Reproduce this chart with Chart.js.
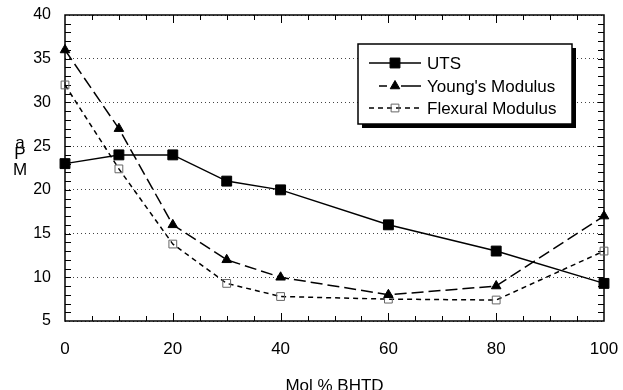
<!DOCTYPE html>
<html>
<head>
<meta charset="utf-8">
<script src="https://cdn.jsdelivr.net/npm/chart.js@4/dist/chart.umd.min.js"></script>
<style>
  html, body { margin: 0; padding: 0; background: #fff; }
  #wrap { width: 623px; height: 390px; position: relative; }
</style>
</head>
<body>
<div id="wrap"><canvas id="chart"></canvas></div>
<script>
const FONT = '"Liberation Sans", Arial, Helvetica, sans-serif';

// composition (mol % BHTD) and measured properties
const molPercent = [0, 10, 20, 30, 40, 60, 80, 100];
const utsValues = [23, 24, 24, 21, 20, 16, 13, 9.3];
const youngValues = [36, 27, 16, 12, 10, 8, 9, 17];
const flexuralValues = [32, 22.4, 13.8, 9.3, 7.8, 7.5, 7.4, 13];
const seriesNames = ['UTS', "Young's Modulus", 'Flexural Modulus'];
const yUnitLetters = ['a', 'P', 'M'];

function toPoints(values) {
	return molPercent.map((m, i) => ({ x: m, y: values[i] }));
}

// box with inward ticks on all four sides
const frameTicks = {
	id: 'frameTicks',
	beforeDatasetsDraw(chart) {
		const { ctx, chartArea: a, scales: { x, y } } = chart;
		ctx.save();
		ctx.strokeStyle = '#000';
		ctx.lineWidth = 1.5;
		ctx.strokeRect(a.left, a.top, a.right - a.left, a.bottom - a.top);
		ctx.lineWidth = 1;
		ctx.beginPath();
		for (let v = 5; v < 100; v += 5) {
			const px = Math.round(x.getPixelForValue(v)) + 0.5;
			const len = v % 20 === 0 ? 8 : 5;
			ctx.moveTo(px, a.bottom);
			ctx.lineTo(px, a.bottom - len);
			ctx.moveTo(px, a.top);
			ctx.lineTo(px, a.top + len);
		}
		for (let v = 6; v < 40; v++) {
			const py = Math.round(y.getPixelForValue(v)) + 0.5;
			ctx.moveTo(a.left, py);
			ctx.lineTo(a.left + 6, py);
			ctx.moveTo(a.right, py);
			ctx.lineTo(a.right - 6, py);
		}
		ctx.stroke();
		ctx.restore();
	},
	afterDraw(chart) {
		const ctx = chart.ctx;
		ctx.save();

		// stacked unit letters beside the y axis
		ctx.fillStyle = '#000';
		ctx.font = '17px ' + FONT;
		ctx.textAlign = 'center';
		ctx.textBaseline = 'middle';
		const letterY = [143, 154, 170];
		yUnitLetters.forEach((ch, i) => ctx.fillText(ch, 20, letterY[i]));

		// legend box with drop shadow
		const bx = 358, by = 44, bw = 214, bh = 80;
		ctx.fillRect(bx + 4, by + 4, bw, bh);
		ctx.fillStyle = '#fff';
		ctx.fillRect(bx, by, bw, bh);
		ctx.strokeStyle = '#000';
		ctx.lineWidth = 1.5;
		ctx.strokeRect(bx, by, bw, bh);

		const rows = [63, 86, 108];
		chart.data.datasets.forEach((ds, i) => {
			const ry = rows[i];
			ctx.strokeStyle = '#000';
			ctx.lineWidth = 1.5;
			ctx.setLineDash(ds.borderDash || []);
			ctx.beginPath();
			if (i === 1) {
				ctx.setLineDash([]);
				ctx.moveTo(379, ry); ctx.lineTo(387, ry);
				ctx.moveTo(401, ry); ctx.lineTo(421, ry);
			} else {
				ctx.moveTo(369, ry);
				ctx.lineTo(421, ry);
			}
			ctx.stroke();
			ctx.setLineDash([]);
			drawMarker(ctx, ds, 395, ry);

			ctx.fillStyle = '#000';
			ctx.font = '17px ' + FONT;
			ctx.textAlign = 'left';
			ctx.textBaseline = 'middle';
			ctx.fillText(ds.label, 427, ry + 1);
		});
		ctx.restore();
	}
};

function drawMarker(ctx, ds, cx, cy) {
	const r = ds.pointRadius;
	ctx.beginPath();
	if (ds.pointStyle === 'triangle') {
		for (let k = 0; k < 3; k++) {
			const ang = k * 2 * Math.PI / 3;
			const px = cx + Math.sin(ang) * r, py = cy - Math.cos(ang) * r;
			k ? ctx.lineTo(px, py) : ctx.moveTo(px, py);
		}
		ctx.closePath();
	} else {
		const s = r * Math.SQRT1_2;
		ctx.rect(cx - s, cy - s, 2 * s, 2 * s);
	}
	ctx.fillStyle = ds.pointBackgroundColor;
	ctx.fill();
	ctx.strokeStyle = ds.pointBorderColor;
	ctx.lineWidth = ds.pointBorderWidth;
	ctx.stroke();
}

new Chart(document.getElementById('chart'), {
	type: 'line',
	data: {
		datasets: [
			{
				label: seriesNames[0],
				data: toPoints(utsValues),
				borderColor: '#000',
				borderWidth: 1.5,
				pointStyle: 'rect',
				pointRadius: 7,
				pointBackgroundColor: '#000',
				pointBorderColor: '#000',
				pointBorderWidth: 1,
				clip: false
			},
			{
				label: seriesNames[1],
				data: toPoints(youngValues),
				borderColor: '#000',
				borderWidth: 1.5,
				borderDash: [12, 5],
				pointStyle: 'triangle',
				pointRadius: 5.5,
				pointBackgroundColor: '#000',
				pointBorderColor: '#000',
				pointBorderWidth: 1,
				clip: false
			},
			{
				label: seriesNames[2],
				data: toPoints(flexuralValues),
				borderColor: '#000',
				borderWidth: 1.5,
				borderDash: [5, 4],
				pointStyle: 'rect',
				pointRadius: 5.5,
				pointBackgroundColor: 'rgba(255,255,255,0)',
				pointBorderColor: '#666',
				pointBorderWidth: 1,
				clip: false
			}
		]
	},
	options: {
		responsive: true,
		maintainAspectRatio: false,
		animation: false,
		events: [],
		layout: { padding: { top: 15, right: 19, left: 0, bottom: 0 } },
		plugins: {
			legend: { display: false },
			tooltip: { enabled: false }
		},
		elements: { line: { tension: 0 } },
		scales: {
			x: {
				type: 'linear',
				min: 0,
				max: 100,
				afterFit: s => {
					s.height = 69;
					s.paddingLeft = 0;
					s.paddingRight = 0;
				},
				ticks: {
					stepSize: 20,
					padding: 18,
					color: '#000',
					font: { family: FONT, size: 17 }
				},
				grid: { display: false, drawTicks: false },
				border: { display: false },
				title: {
					display: true,
					text: 'Mol % BHTD',
					color: '#000',
					font: { family: FONT, size: 17, lineHeight: 1 },
					padding: { top: 0, bottom: -5 }
				}
			},
			y: {
				min: 5,
				max: 40,
				afterFit: s => {
					s.width = 65;
					s.paddingTop = 0;
					s.paddingBottom = 0;
				},
				ticks: {
					stepSize: 5,
					padding: 14,
					color: '#000',
					font: { family: FONT, size: 16 }
				},
				grid: { drawTicks: false, color: '#444', lineWidth: 1 },
				border: { display: false, dash: [1, 3] }
			}
		}
	},
	plugins: [frameTicks]
});
</script>
</body>
</html>
